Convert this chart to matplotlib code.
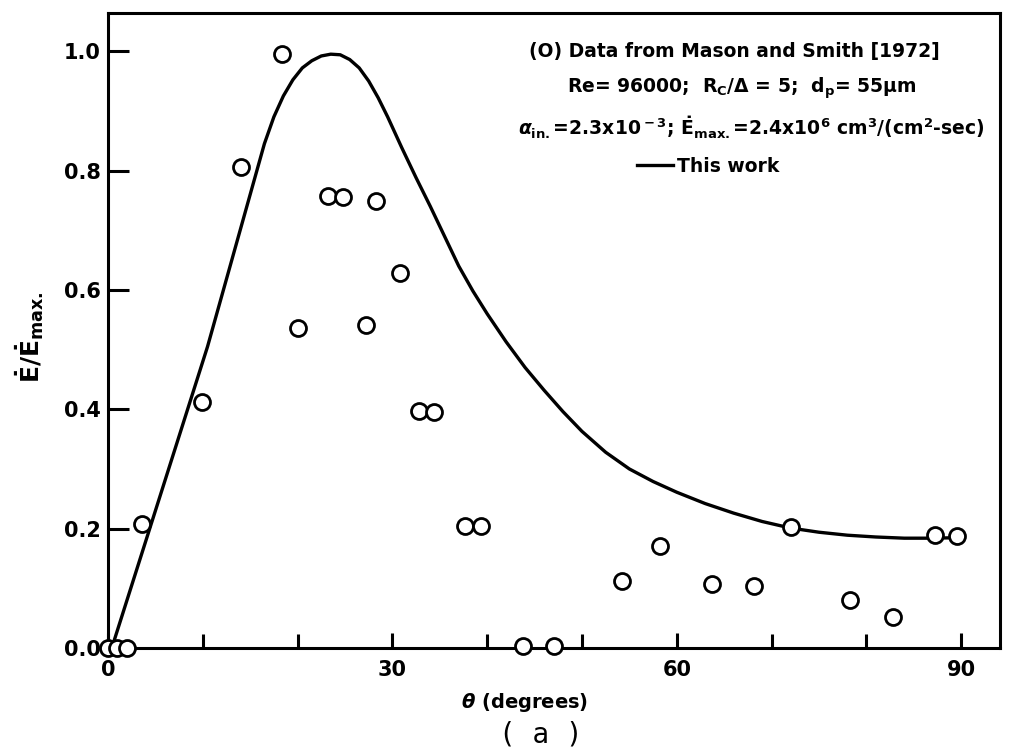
import matplotlib
matplotlib.use("Agg")
import matplotlib.pyplot as plt
from matplotlib.ticker import MultipleLocator

plt.rcParams.update({
    "font.family": "DejaVu Sans",
    "font.weight": "bold",
    "mathtext.fontset": "custom",
    "mathtext.rm": "DejaVu Sans:bold",
    "mathtext.it": "DejaVu Sans:italic:bold",
    "mathtext.bf": "DejaVu Sans:bold",
})

# measured erosion rates (Mason and Smith, 1972)
theta_data = [0.0, 1.0, 2.0, 3.6, 9.9, 14.0, 18.4, 20.0, 23.2, 24.8, 27.2, 28.3,
              30.8, 32.8, 34.4, 37.7, 39.4, 43.8, 47.1, 54.2, 58.2, 63.7, 68.2,
              72.1, 78.3, 82.8, 87.2, 89.6]
erate_data = [0.0, 0.0, 0.0, 0.208, 0.412, 0.806, 0.996, 0.536, 0.757, 0.756, 0.541, 0.749,
              0.628, 0.397, 0.396, 0.205, 0.204, 0.004, 0.004, 0.112, 0.171, 0.107, 0.104,
              0.202, 0.080, 0.052, 0.190, 0.187]

# model prediction ("This work")
theta_model = [0.4, 3, 6, 9, 10.5, 12, 13.5, 15, 16.5, 17.5, 18.5, 19.5, 20.5, 21.5,
               22.5, 23.5, 24.5, 25.5, 26.5, 27.5, 28.5, 29.5, 31, 32.5, 34, 35.5, 37,
               38.5, 40, 42, 44, 46, 48, 50, 52.5, 55, 57.5, 60, 63, 66, 69, 72, 75,
               78, 81, 84, 87, 90]
erate_model = [0.0, 0.13, 0.28, 0.43, 0.505, 0.59, 0.675, 0.76, 0.845, 0.89, 0.925,
               0.952, 0.972, 0.984, 0.992, 0.995, 0.994, 0.986, 0.972, 0.95, 0.922,
               0.89, 0.838, 0.788, 0.74, 0.69, 0.64, 0.598, 0.56, 0.513, 0.47, 0.432,
               0.396, 0.363, 0.328, 0.300, 0.279, 0.261, 0.242, 0.226, 0.212, 0.201,
               0.194, 0.189, 0.186, 0.184, 0.184, 0.185]

fig = plt.figure(figsize=(10.21, 7.47), dpi=100)
ax = fig.add_axes([108 / 1021, 1 - 648 / 747, 892 / 1021, 635 / 747])

line, = ax.plot(theta_model, erate_model, "-", color="black", lw=2.4, zorder=2)
ax.plot(theta_data, erate_data, "o", ms=11.5, mfc="white", mec="black", mew=2.0,
        ls="none", clip_on=False, zorder=3)

ax.set_xlim(0, 94.1)
ax.set_ylim(0, 1.064)
ax.xaxis.set_major_locator(MultipleLocator(30))
ax.xaxis.set_minor_locator(MultipleLocator(10))
ax.yaxis.set_major_locator(MultipleLocator(0.2))
ax.yaxis.set_major_formatter(lambda v, p: f"{v:.1f}")
for s in ("top", "right", "bottom", "left"):
    ax.spines[s].set_linewidth(2.2)
ax.tick_params(axis="y", which="major", direction="in", length=15, width=2.2,
               pad=5, labelsize=15, right=False)
ax.tick_params(axis="x", which="major", direction="in", length=11, width=2.2,
               pad=9, labelsize=15, top=False)
ax.tick_params(axis="x", which="minor", direction="in", length=10, width=2.2, top=False)

fig.text(30 / 1021, 1 - 337 / 747, r"$\dot{\rm E}/\dot{\rm E}_{\rm max.}$",
         rotation=90, ha="center", va="center", fontsize=18)
fig.text(525 / 1021, 1 - 702 / 747, r"$\theta$ (degrees)", ha="center", va="center",
         fontsize=14)
fig.text(541 / 1021, 1 - 735 / 747, "( a )", ha="center", va="center",
         fontsize=20, family="DejaVu Sans Mono", weight="normal")

fig.text(734 / 1021, 1 - 51 / 747, "(O) Data from Mason and Smith [1972]",
         ha="center", va="center", fontsize=13.5)
fig.text(742 / 1021, 1 - 88 / 747,
         r"Re= 96000;  $\rm R_C/\Delta$ = 5;  $\rm d_p$= 55$\rm \mu$m",
         ha="center", va="center", fontsize=13.5)
fig.text(751 / 1021, 1 - 128 / 747,
         r"$\alpha_{\rm in.}$=2.3x10$^{\rm -3}$; $\dot{\rm E}_{\rm max.}$=2.4x10$^{\rm 6}$"
         r" cm$^{\rm 3}$/(cm$^{\rm 2}$-sec)",
         ha="center", va="center", fontsize=13.5)
ax.legend([line], ["This work"], loc="center", frameon=False, fontsize=13.5,
          handlelength=1.9, handletextpad=0.2,
          bbox_to_anchor=(708 / 1021, 1 - 166 / 747), bbox_transform=fig.transFigure)

fig.savefig("out.png", dpi=100)
